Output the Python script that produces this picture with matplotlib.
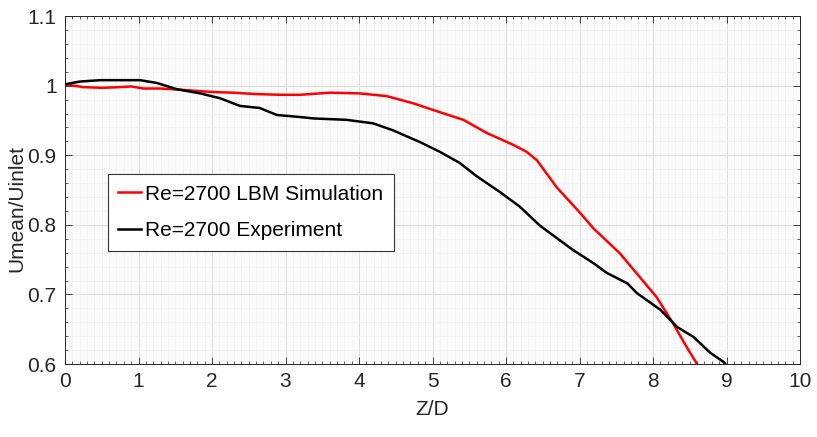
import matplotlib
matplotlib.use("Agg")
import matplotlib.pyplot as plt
import matplotlib.ticker as tck
import numpy as np

plt.rcParams['font.family'] = ['Liberation Sans', 'DejaVu Sans']

# ------ data:
lbm_z = [0.0, 0.25, 0.5, 0.75, 0.9, 1.07, 1.3, 1.61, 2.0, 2.29, 2.6, 2.93, 3.2, 3.6, 4.01,
         4.38, 4.73, 5.10, 5.42, 5.74, 6.10, 6.28, 6.42, 6.69, 7.01, 7.19, 7.32,
         7.55, 7.82, 8.05, 8.27, 8.46, 8.60]
lbm_u = [1.002, 0.998, 0.997, 0.998, 0.999, 0.996, 0.996, 0.994, 0.991, 0.990, 0.988, 0.987,
         0.987, 0.990, 0.989, 0.985, 0.975, 0.962, 0.951, 0.932, 0.915, 0.905, 0.893,
         0.854, 0.817, 0.795, 0.782, 0.759, 0.725, 0.696, 0.659, 0.624, 0.600]

exp_z = [0.0, 0.2, 0.48, 0.75, 1.02, 1.25, 1.52, 1.84, 2.11, 2.38, 2.65, 2.88, 3.2, 3.38,
         3.83, 4.19, 4.46, 4.83, 5.10, 5.37, 5.60, 5.92, 6.19, 6.46, 6.73, 6.91,
         7.19, 7.37, 7.65, 7.78, 8.10, 8.33, 8.55, 8.78, 8.96, 9.0]
exp_u = [1.002, 1.006, 1.008, 1.008, 1.008, 1.004, 0.995, 0.989, 0.982, 0.971, 0.968, 0.958,
         0.955, 0.953, 0.951, 0.946, 0.936, 0.919, 0.905, 0.889, 0.870, 0.847,
         0.826, 0.799, 0.778, 0.764, 0.745, 0.731, 0.716, 0.702, 0.678, 0.653, 0.639, 0.616,
         0.603, 0.598]

x_ticks = list(range(0, 11))
y_ticks = [0.6, 0.7, 0.8, 0.9, 1.0, 1.1]
y_tick_labels = ["0.6", "0.7", "0.8", "0.9", "1", "1.1"]

# ------- plot
fig = plt.figure(figsize=(8.17, 4.37), dpi=100)
ax = fig.add_axes([0.0796, 0.167, 0.8996, 0.796])
ax.set_facecolor("#fafafa")

ax.plot(lbm_z, lbm_u, color="#ff0000", linewidth=1.8, label="Re=2700 LBM Simulation", zorder=3)
ax.plot(exp_z, exp_u, color="black", linewidth=1.8, label="Re=2700 Experiment", zorder=3)

ax.set_xlim(0, 10)
ax.set_ylim(0.6, 1.1)
ax.set_xticks(x_ticks)
ax.set_yticks(y_ticks)
ax.set_yticklabels(y_tick_labels)
ax.xaxis.set_minor_locator(tck.MultipleLocator(0.1))
ax.yaxis.set_minor_locator(tck.MultipleLocator(0.02))

ax.tick_params(which="both", direction="in", top=True, right=True, labelsize=15,
               colors="#262626", pad=6)
ax.tick_params(which="major", length=5, width=0.6)
ax.tick_params(which="minor", length=2.5, width=0.5)

ax.grid(which="major", color="#dcdcdc", linewidth=0.7)
ax.grid(which="minor", color="#f1f1f1", linewidth=0.5)
ax.set_axisbelow(True)
for s in ax.spines.values():
    s.set_color("#262626")
    s.set_linewidth(0.7)

ax.set_xlabel("Z/D", fontsize=15, color="#262626", labelpad=6)
ax.set_ylabel("Umean/Uinlet", fontsize=15, color="#262626")
ax.yaxis.set_label_coords(-0.052, 0.448)

leg = ax.legend(loc="upper left", bbox_to_anchor=(0.058, 0.546), fontsize=15,
                handlelength=1.1, handletextpad=0.2, borderpad=0.5, labelspacing=0.85,
                borderaxespad=0, fancybox=False, framealpha=1, edgecolor="#333333")
leg.get_frame().set_linewidth(0.8)

plt.savefig("out.png", dpi=100)
